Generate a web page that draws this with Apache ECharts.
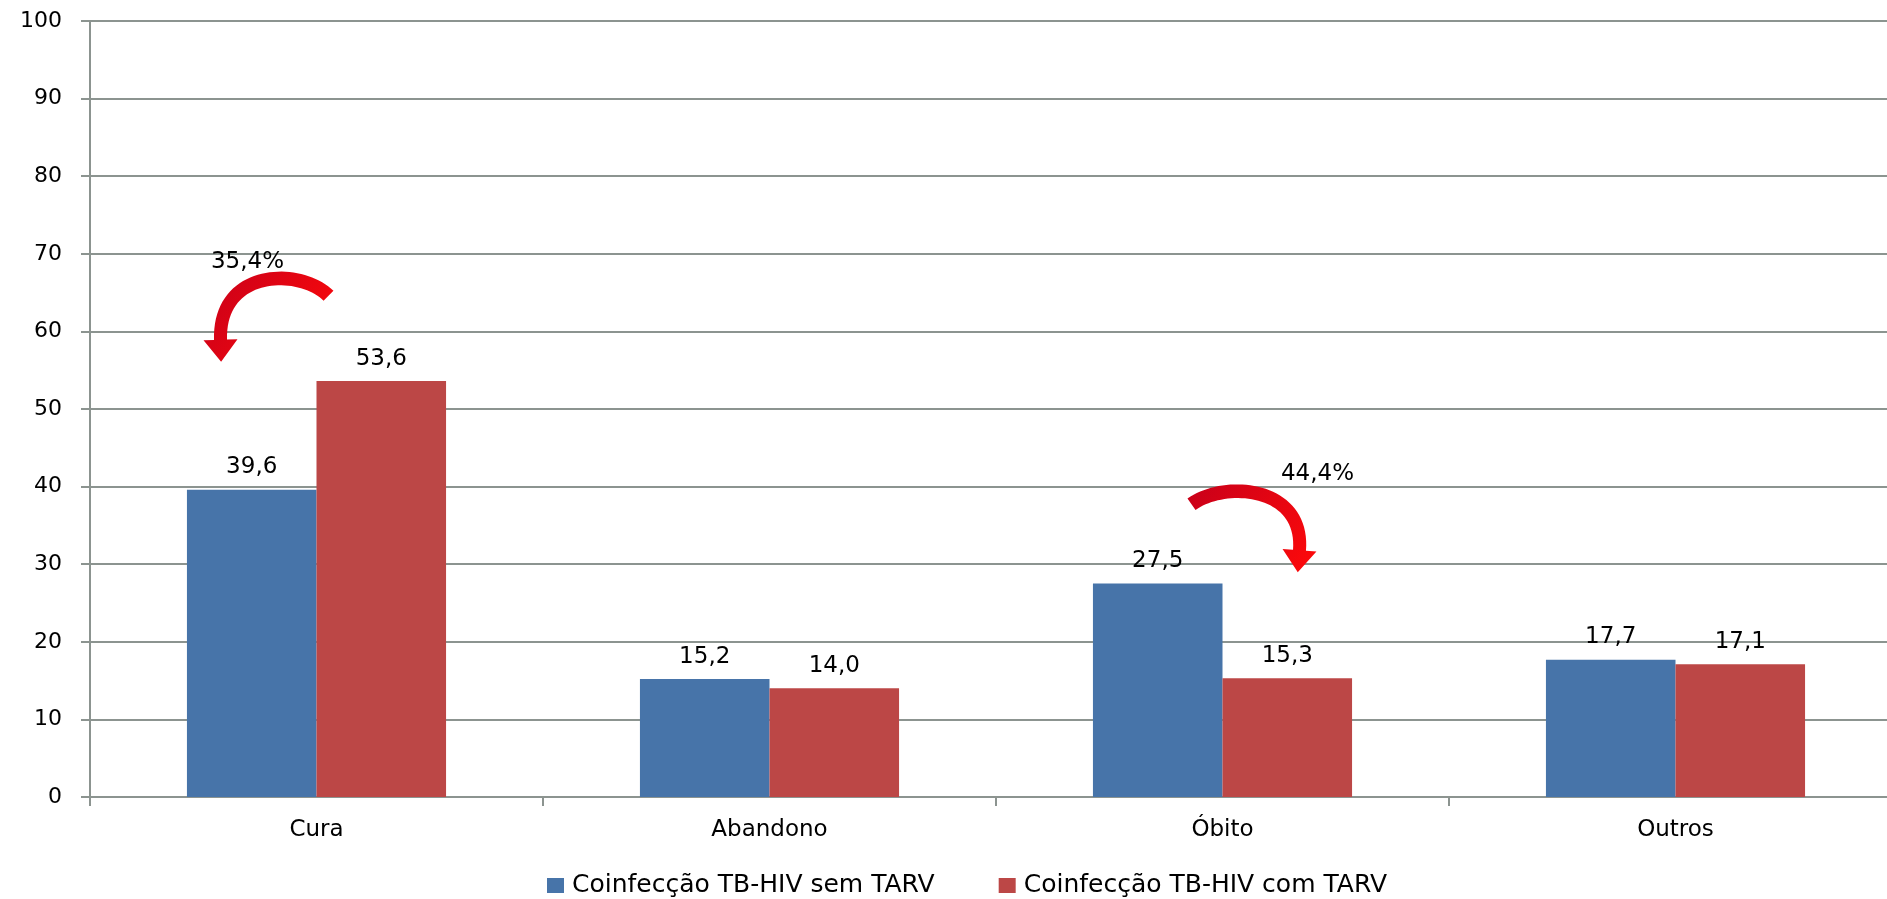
<!DOCTYPE html>
<html>
<head>
<meta charset="utf-8">
<script src="https://cdn.jsdelivr.net/npm/echarts@6/dist/echarts.min.js"></script>
<style>
  html, body { margin: 0; padding: 0; background: #fff; }
  #chart { width: 1887px; height: 899px; }
</style>
</head>
<body>
<div id="chart"></div>
<script>
// Treatment outcomes for TB-HIV coinfection, with and without ART (%)
const categories = ['Cura', 'Abandono', 'Óbito', 'Outros'];
const semTarv = [39.6, 15.2, 27.5, 17.7];
const comTarv = [53.6, 14.0, 15.3, 17.1];
const seriesNames = ['Coinfecção TB-HIV sem TARV', 'Coinfecção TB-HIV com TARV'];
const yTicks = { min: 0, max: 100, interval: 10 };

// Relative-change callouts: category, anchor value, text
const callouts = [
  { category: 'Cura', value: 70, text: '35,4%' },
  { category: 'Óbito', value: 30, text: '44,4%' }
];

const gridColor = '#8c9490';
const labelFont = 'DejaVu Sans';
const fmt = v => v.toFixed(1).replace('.', ',');

const chart = echarts.init(document.getElementById('chart'), null, { renderer: 'canvas' });

const barLabel = {
  show: true, position: 'top', distance: 11,
  fontFamily: labelFont, fontSize: 23, color: '#000',
  formatter: p => fmt(p.value)
};

chart.setOption({
  animation: false,
  backgroundColor: '#ffffff',
  grid: { left: 90, top: 21, bottom: 102, width: 1812, containLabel: false, outerBoundsMode: 'none' },
  legend: {
    left: 547,
    top: 873,
    padding: 0,
    icon: 'rect',
    itemWidth: 17,
    itemHeight: 15,
    itemGap: 64,
    textStyle: { fontFamily: labelFont, fontSize: 25, color: '#000', padding: [0, 0, 0, 3] },
    data: seriesNames
  },
  xAxis: {
    type: 'category',
    data: categories,
    boundaryGap: true,
    axisLine: { show: true, lineStyle: { color: gridColor, width: 2 } },
    axisTick: { show: true, inside: false, length: 9, lineStyle: { color: gridColor, width: 2 } },
    axisLabel: { margin: 22, fontFamily: labelFont, fontSize: 23, color: '#000' },
    splitLine: { show: false }
  },
  yAxis: {
    type: 'value',
    min: yTicks.min,
    max: yTicks.max,
    interval: yTicks.interval,
    axisLine: { show: true, lineStyle: { color: gridColor, width: 2 } },
    axisTick: { show: true, inside: false, length: 9, lineStyle: { color: gridColor, width: 2 } },
    axisLabel: { margin: 28, fontFamily: labelFont, fontSize: 22, color: '#000' },
    splitLine: { show: true, lineStyle: { color: gridColor, width: 2 } }
  },
  series: [
    {
      name: seriesNames[0],
      type: 'bar',
      data: semTarv,
      barWidth: '28.6%',
      barGap: '0%',
      itemStyle: { color: '#4774a9' },
      label: barLabel
    },
    {
      name: seriesNames[1],
      type: 'bar',
      data: comTarv,
      barWidth: '28.6%',
      barGap: '0%',
      itemStyle: { color: '#bc4746' },
      label: barLabel
    }
  ]
});

// Curved arrow shape: tapered band along a cubic bezier with a triangular head
function curvedArrow(p0, p1, p2, p3, wTail, wHead, headHalf, headLen) {
  const left = [], right = [];
  const steps = 40;
  let lastD = [0, 1];
  for (let i = 0; i <= steps; i++) {
    const t = i / steps, u = 1 - t;
    const x = u*u*u*p0[0] + 3*u*u*t*p1[0] + 3*u*t*t*p2[0] + t*t*t*p3[0];
    const y = u*u*u*p0[1] + 3*u*u*t*p1[1] + 3*u*t*t*p2[1] + t*t*t*p3[1];
    let dx = 3*u*u*(p1[0]-p0[0]) + 6*u*t*(p2[0]-p1[0]) + 3*t*t*(p3[0]-p2[0]);
    let dy = 3*u*u*(p1[1]-p0[1]) + 6*u*t*(p2[1]-p1[1]) + 3*t*t*(p3[1]-p2[1]);
    const len = Math.hypot(dx, dy) || 1;
    dx /= len; dy /= len;
    lastD = [dx, dy];
    const w = (wTail + (wHead - wTail) * t) / 2;
    left.push([x - dy * w, y + dx * w]);
    right.push([x + dy * w, y - dx * w]);
  }
  const [dx, dy] = lastD;
  const headL = [p3[0] - dy * headHalf, p3[1] + dx * headHalf];
  const headR = [p3[0] + dy * headHalf, p3[1] - dx * headHalf];
  const tip = [p3[0] + dx * headLen, p3[1] + dy * headLen];
  return left.concat([headL, tip, headR]).concat(right.reverse());
}

// Arrow geometry relative to each callout anchor
const arrowShapes = {
  'Cura': { p: [[12, 42], [-16, 14], [-98, 14], [-96, 86]], label: [-69, 8] },
  'Óbito': { p: [[-31, -60], [3, -84], [82, -78], [77, -14]], label: [95, -90] }
};

const graphics = [];
callouts.forEach(c => {
  const a = chart.convertToPixel({ xAxisIndex: 0, yAxisIndex: 0 }, [c.category, c.value]);
  const s = arrowShapes[c.category];
  const pts = s.p.map(q => [a[0] + q[0], a[1] + q[1]]);
  graphics.push({
    type: 'polygon',
    shape: { points: curvedArrow(pts[0], pts[1], pts[2], pts[3], 14, 13, 17, 22) },
    style: {
      fill: new echarts.graphic.LinearGradient(0, 0, 1, 1, [
        { offset: 0, color: '#c8001a' },
        { offset: 1, color: '#ff0a0a' }
      ])
    },
    z: 10
  });
  graphics.push({
    type: 'text',
    x: a[0] + s.label[0],
    y: a[1] + s.label[1],
    style: {
      text: c.text, fontFamily: labelFont, fontSize: 23, fill: '#000',
      align: 'center', verticalAlign: 'middle'
    },
    z: 10
  });
});
chart.setOption({ graphic: graphics });
</script>
</body>
</html>
